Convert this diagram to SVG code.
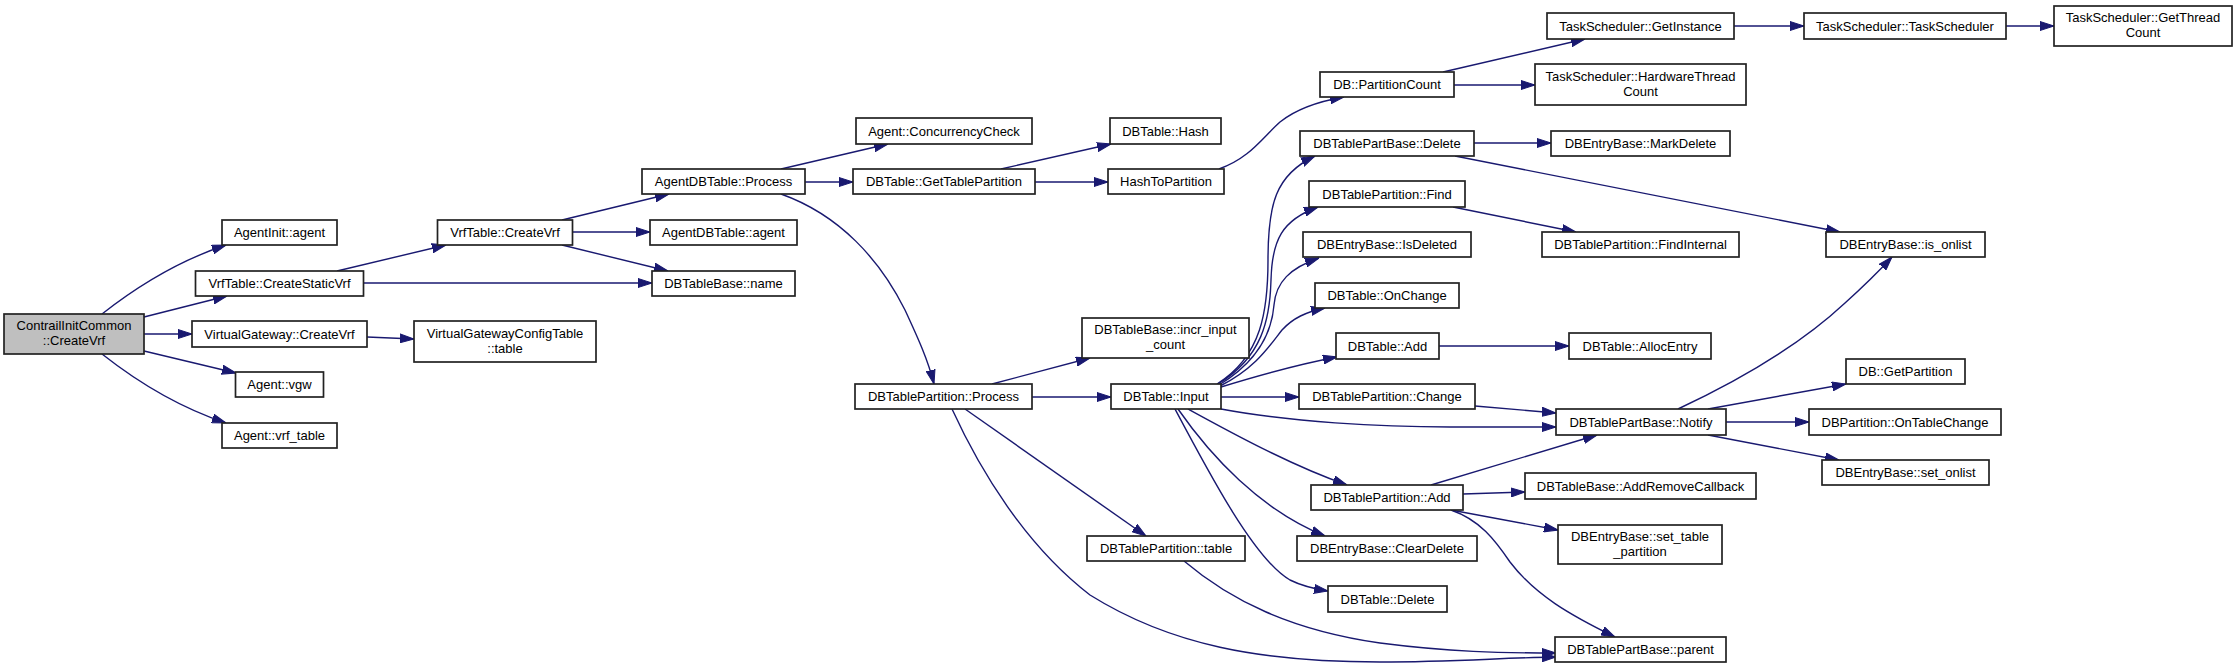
<svg xmlns="http://www.w3.org/2000/svg" width="2237" height="669" viewBox="0 0 2237 669">
<style>
.node rect{fill:#fff;stroke:#222;stroke-width:1.7}
.node.root rect{fill:#bfbfbf}
.node text{font-family:"Liberation Sans",Arial,Helvetica,sans-serif;font-size:13px;text-anchor:middle;fill:#000}
.edges path{fill:none;stroke:#191970;stroke-width:1.4;marker-end:url(#arr)}
</style>
<defs>
<marker id="arr" viewBox="0 0 14 10" refX="14" refY="5" markerWidth="14" markerHeight="10" markerUnits="userSpaceOnUse" orient="auto">
<path d="M0,0.5 L14,5 L0,9.5 z" fill="#191970" stroke="#191970" stroke-width="1"/>
</marker>
</defs>
<rect width="2237" height="669" fill="#fff"/>
<g class="edges" id="connectors">
<path d="M102,314 C135,288 175,262 226,245"/>
<path d="M144,317 L227,296"/>
<path d="M144,334 L192,334"/>
<path d="M144,351 L236,373"/>
<path d="M102,354 C135,380 175,406 226,423"/>
<path d="M337,271 L446,245"/>
<path d="M363,283 L652,283"/>
<path d="M367,337 L414,339"/>
<path d="M562,220 L669,194"/>
<path d="M572,232 L650,232"/>
<path d="M562,245 L668,271"/>
<path d="M781,169 L888,144"/>
<path d="M805,182 L853,182"/>
<path d="M781,194 C840,215 880,260 905,310 C918,338 928,360 934,384"/>
<path d="M1001,169 L1111,144"/>
<path d="M1035,182 L1108,182"/>
<path d="M1219,169 C1250,158 1262,138 1280,122 C1295,110 1315,102 1344,97"/>
<path d="M1443,72 L1585,39"/>
<path d="M1454,85 L1535,85"/>
<path d="M1734,26 L1804,26"/>
<path d="M2006,26 L2054,26"/>
<path d="M1217,384 C1262,356 1268,310 1268,260 C1268,205 1275,175 1315,156"/>
<path d="M1218,384 C1262,357 1270,320 1271,280 C1272,240 1282,220 1318,207"/>
<path d="M1219,385 C1260,360 1272,330 1274,305 C1276,282 1290,268 1319,258"/>
<path d="M1220,386 C1256,368 1270,345 1282,330 C1293,318 1306,312 1325,308"/>
<path d="M1221,387 C1260,375 1295,365 1337,357"/>
<path d="M1221,397 L1299,397"/>
<path d="M1221,409 C1290,422 1380,427 1450,427 C1500,427 1530,427 1556,427"/>
<path d="M1188,409 C1230,432 1290,465 1347,485"/>
<path d="M1178,409 C1210,455 1260,510 1325,536"/>
<path d="M1175,409 C1210,475 1255,560 1290,580 C1302,586 1315,589 1328,591"/>
<path d="M992,384 L1090,358"/>
<path d="M1032,397 L1111,397"/>
<path d="M965,409 L1146,536"/>
<path d="M952,409 C980,470 1025,545 1090,595 C1170,645 1260,662 1380,662 C1450,662 1500,658 1556,657"/>
<path d="M1184,561 C1230,600 1290,630 1380,643 C1450,652 1500,653 1556,653"/>
<path d="M1431,485 L1597,435"/>
<path d="M1463,494 L1525,492"/>
<path d="M1451,510 L1558,530"/>
<path d="M1451,510 C1480,520 1495,540 1510,562 C1535,595 1570,615 1615,637"/>
<path d="M1475,406 L1556,413"/>
<path d="M1439,346 L1569,346"/>
<path d="M1678,409 C1740,380 1800,345 1845,303 C1865,285 1880,270 1892,257"/>
<path d="M1708,409 L1846,384"/>
<path d="M1726,422 L1809,422"/>
<path d="M1708,435 L1839,460"/>
<path d="M1474,143 L1551,143"/>
<path d="M1455,156 L1840,232"/>
<path d="M1453,207 L1576,232"/>
</g>
<g class="node root" id="n_contrail"><rect x="4" y="314" width="140" height="40"/><text x="74" y="330">ContrailInitCommon</text><text x="74" y="345">::CreateVrf</text></g>
<g class="node" id="n_agentinit_agent"><rect x="222" y="220" width="115" height="25"/><text x="279.5" y="237">AgentInit::agent</text></g>
<g class="node" id="n_createstaticvrf"><rect x="195.5" y="271" width="168" height="25"/><text x="279.5" y="288">VrfTable::CreateStaticVrf</text></g>
<g class="node" id="n_vgw_createvrf"><rect x="192" y="321" width="175" height="26"/><text x="279.5" y="338.5">VirtualGateway::CreateVrf</text></g>
<g class="node" id="n_agent_vgw"><rect x="235.5" y="372" width="88" height="25"/><text x="279.5" y="389">Agent::vgw</text></g>
<g class="node" id="n_agent_vrf_table"><rect x="222" y="423" width="115" height="25"/><text x="279.5" y="440">Agent::vrf_table</text></g>
<g class="node" id="n_vrftable_createvrf"><rect x="437.5" y="220" width="135" height="25"/><text x="505" y="237">VrfTable::CreateVrf</text></g>
<g class="node" id="n_vgct_table"><rect x="414" y="321" width="182" height="41"/><text x="505" y="337.5">VirtualGatewayConfigTable</text><text x="505" y="352.5">::table</text></g>
<g class="node" id="n_agentdbtable_process"><rect x="642" y="169" width="163" height="25"/><text x="723.5" y="186">AgentDBTable::Process</text></g>
<g class="node" id="n_agentdbtable_agent"><rect x="650" y="220" width="147" height="25"/><text x="723.5" y="237">AgentDBTable::agent</text></g>
<g class="node" id="n_dbtablebase_name"><rect x="652" y="271" width="143" height="25"/><text x="723.5" y="288">DBTableBase::name</text></g>
<g class="node" id="n_concurrencycheck"><rect x="856" y="118" width="176" height="26"/><text x="944" y="135.5">Agent::ConcurrencyCheck</text></g>
<g class="node" id="n_gettablepartition"><rect x="853" y="169" width="182" height="25"/><text x="944" y="186">DBTable::GetTablePartition</text></g>
<g class="node" id="n_dbtable_hash"><rect x="1110" y="118" width="111" height="26"/><text x="1165.5" y="135.5">DBTable::Hash</text></g>
<g class="node" id="n_hashtopartition"><rect x="1108" y="169" width="116" height="25"/><text x="1166" y="186">HashToPartition</text></g>
<g class="node" id="n_partitioncount"><rect x="1320" y="72" width="134" height="25"/><text x="1387" y="89">DB::PartitionCount</text></g>
<g class="node" id="n_getinstance"><rect x="1547" y="13" width="187" height="26"/><text x="1640.5" y="30.5">TaskScheduler::GetInstance</text></g>
<g class="node" id="n_hwthreadcount"><rect x="1535" y="64" width="211" height="41"/><text x="1640.5" y="81">TaskScheduler::HardwareThread</text><text x="1640.5" y="96">Count</text></g>
<g class="node" id="n_taskscheduler"><rect x="1804" y="13" width="202" height="26"/><text x="1905" y="30.5">TaskScheduler::TaskScheduler</text></g>
<g class="node" id="n_getthreadcount"><rect x="2054" y="6" width="178" height="40"/><text x="2143" y="22">TaskScheduler::GetThread</text><text x="2143" y="37">Count</text></g>
<g class="node" id="n_partbase_delete"><rect x="1300" y="131" width="174" height="25"/><text x="1387" y="148">DBTablePartBase::Delete</text></g>
<g class="node" id="n_markdelete"><rect x="1551" y="131" width="179" height="25"/><text x="1640.5" y="148">DBEntryBase::MarkDelete</text></g>
<g class="node" id="n_partition_find"><rect x="1309" y="181" width="156" height="26"/><text x="1387" y="198.5">DBTablePartition::Find</text></g>
<g class="node" id="n_findinternal"><rect x="1542" y="232" width="197" height="25"/><text x="1640.5" y="249">DBTablePartition::FindInternal</text></g>
<g class="node" id="n_is_onlist"><rect x="1826" y="232" width="159" height="25"/><text x="1905.5" y="249">DBEntryBase::is_onlist</text></g>
<g class="node" id="n_isdeleted"><rect x="1303" y="232" width="168" height="25"/><text x="1387" y="249">DBEntryBase::IsDeleted</text></g>
<g class="node" id="n_onchange"><rect x="1315" y="283" width="144" height="25"/><text x="1387" y="300">DBTable::OnChange</text></g>
<g class="node" id="n_dbtable_add"><rect x="1336" y="333" width="103" height="26"/><text x="1387.5" y="350.5">DBTable::Add</text></g>
<g class="node" id="n_allocentry"><rect x="1569" y="333" width="142" height="26"/><text x="1640" y="350.5">DBTable::AllocEntry</text></g>
<g class="node" id="n_partition_change"><rect x="1299" y="384" width="176" height="25"/><text x="1387" y="401">DBTablePartition::Change</text></g>
<g class="node" id="n_notify"><rect x="1556" y="409" width="170" height="26"/><text x="1641" y="426.5">DBTablePartBase::Notify</text></g>
<g class="node" id="n_getpartition"><rect x="1846" y="359" width="119" height="25"/><text x="1905.5" y="376">DB::GetPartition</text></g>
<g class="node" id="n_ontablechange"><rect x="1809" y="409" width="192" height="26"/><text x="1905" y="426.5">DBPartition::OnTableChange</text></g>
<g class="node" id="n_set_onlist"><rect x="1822" y="460" width="167" height="25"/><text x="1905.5" y="477">DBEntryBase::set_onlist</text></g>
<g class="node" id="n_partition_add"><rect x="1311" y="485" width="152" height="25"/><text x="1387" y="502">DBTablePartition::Add</text></g>
<g class="node" id="n_addremovecallback"><rect x="1525" y="473" width="231" height="26"/><text x="1640.5" y="490.5">DBTableBase::AddRemoveCallback</text></g>
<g class="node" id="n_set_table_partition"><rect x="1558" y="525" width="164" height="39"/><text x="1640" y="541">DBEntryBase::set_table</text><text x="1640" y="556">_partition</text></g>
<g class="node" id="n_cleardelete"><rect x="1297" y="536" width="180" height="25"/><text x="1387" y="553">DBEntryBase::ClearDelete</text></g>
<g class="node" id="n_dbtable_delete"><rect x="1328" y="586" width="119" height="26"/><text x="1387.5" y="603.5">DBTable::Delete</text></g>
<g class="node" id="n_parent"><rect x="1555" y="637" width="171" height="25"/><text x="1640.5" y="654">DBTablePartBase::parent</text></g>
<g class="node" id="n_incr_input_count"><rect x="1082" y="318" width="167" height="40"/><text x="1165.5" y="334">DBTableBase::incr_input</text><text x="1165.5" y="349">_count</text></g>
<g class="node" id="n_partition_process"><rect x="855" y="384" width="177" height="25"/><text x="943.5" y="401">DBTablePartition::Process</text></g>
<g class="node" id="n_dbtable_input"><rect x="1111" y="384" width="110" height="25"/><text x="1166" y="401">DBTable::Input</text></g>
<g class="node" id="n_partition_table"><rect x="1087" y="536" width="158" height="25"/><text x="1166" y="553">DBTablePartition::table</text></g>
</svg>
